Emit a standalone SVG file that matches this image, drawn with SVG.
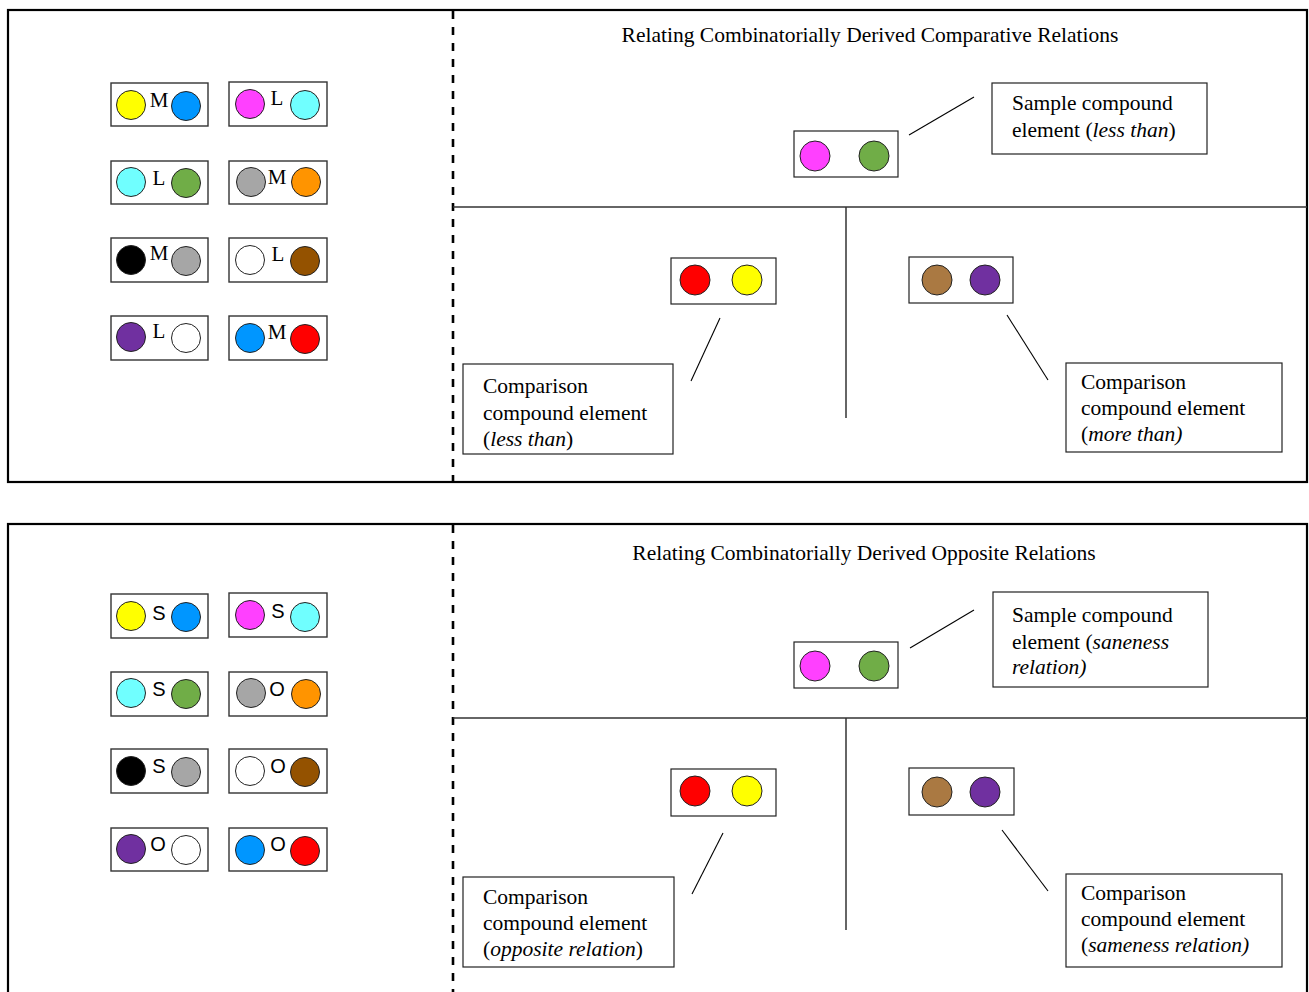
<svg xmlns="http://www.w3.org/2000/svg" width="1309" height="992" viewBox="0 0 1309 992">
<style>
.panel{fill:none;stroke:#000;stroke-width:2.2}
.dash{stroke:#000;stroke-width:2.6;stroke-dasharray:8,8}
.div{stroke:#333;stroke-width:1.5}
.sbox{fill:#fff;stroke:#333;stroke-width:1.4}
.box{fill:#fff;stroke:#222;stroke-width:1.2}
.c{stroke:#222;stroke-width:1}
.lead{stroke:#000;stroke-width:1.1}
.t{font-family:"Liberation Serif","Times New Roman",serif;font-size:21.5px;fill:#000}
.title{font-family:"Liberation Serif","Times New Roman",serif;font-size:21.5px;fill:#000;text-anchor:middle}
.ls{font-family:"Liberation Serif","Times New Roman",serif;font-size:21px;fill:#000;text-anchor:middle}
.la{font-family:"Liberation Sans",Arial,sans-serif;font-size:20px;fill:#000;text-anchor:middle}
.i{font-style:italic}
</style>
<rect width="1309" height="992" fill="#fff"/>

<g id="panel-top">
<rect class="panel" x="8" y="10" width="1299" height="472"/>
<line class="dash" x1="453" y1="11" x2="453" y2="481"/>
<line class="div" x1="453" y1="207" x2="1307" y2="207"/>
<line class="div" x1="846" y1="207" x2="846" y2="418"/>
<text class="title" x="870" y="42">Relating Combinatorially Derived Comparative Relations</text>
</g>

<g id="panel-bottom">
<rect class="panel" x="8" y="524" width="1299" height="480"/>
<line class="dash" x1="453" y1="525" x2="453" y2="992"/>
<line class="div" x1="453" y1="718" x2="1307" y2="718"/>
<line class="div" x1="846" y1="718" x2="846" y2="930"/>
<text class="title" x="864" y="560">Relating Combinatorially Derived Opposite Relations</text>
</g>

<!-- top left pairs -->
<g id="t-pair-1"><rect class="sbox" x="111" y="83" width="97" height="43"/><circle class="c" cx="131" cy="105" r="14.5" fill="#FFFF00"/><circle class="c" cx="186" cy="106" r="14.5" fill="#0096FF"/><text class="ls" x="159" y="107">M</text></g>
<g id="t-pair-2"><rect class="sbox" x="229" y="82" width="98" height="44"/><circle class="c" cx="250" cy="104" r="14.5" fill="#FF40FF"/><circle class="c" cx="305" cy="105" r="14.5" fill="#70FFFF"/><text class="ls" x="277" y="105">L</text></g>
<g id="t-pair-3"><rect class="sbox" x="111" y="161" width="97" height="43"/><circle class="c" cx="131" cy="182" r="14.5" fill="#70FFFF"/><circle class="c" cx="186" cy="183" r="14.5" fill="#70AD47"/><text class="ls" x="159" y="185">L</text></g>
<g id="t-pair-4"><rect class="sbox" x="229" y="161" width="98" height="43"/><circle class="c" cx="251" cy="182" r="14.5" fill="#A6A6A6"/><circle class="c" cx="306" cy="182" r="14.5" fill="#FF9400"/><text class="ls" x="277" y="184">M</text></g>
<g id="t-pair-5"><rect class="sbox" x="111" y="238" width="97" height="44"/><circle class="c" cx="131" cy="260" r="14.5" fill="#000000"/><circle class="c" cx="186" cy="261" r="14.5" fill="#A6A6A6"/><text class="ls" x="159" y="260">M</text></g>
<g id="t-pair-6"><rect class="sbox" x="229" y="238" width="98" height="44"/><circle class="c" cx="250" cy="260" r="14.5" fill="#FFFFFF"/><circle class="c" cx="305" cy="261" r="14.5" fill="#945200"/><text class="ls" x="278" y="261">L</text></g>
<g id="t-pair-7"><rect class="sbox" x="111" y="316" width="97" height="44"/><circle class="c" cx="131" cy="337" r="14.5" fill="#7030A0"/><circle class="c" cx="186" cy="338" r="14.5" fill="#FFFFFF"/><text class="ls" x="159" y="338">L</text></g>
<g id="t-pair-8"><rect class="sbox" x="229" y="316" width="98" height="44"/><circle class="c" cx="250" cy="338" r="14.5" fill="#0096FF"/><circle class="c" cx="305" cy="339" r="14.5" fill="#FF0000"/><text class="ls" x="277" y="339">M</text></g>

<!-- bottom left pairs -->
<g id="b-pair-1"><rect class="sbox" x="111" y="594" width="97" height="44"/><circle class="c" cx="131" cy="616" r="14.5" fill="#FFFF00"/><circle class="c" cx="186" cy="617" r="14.5" fill="#0096FF"/><text class="la" x="159" y="620">S</text></g>
<g id="b-pair-2"><rect class="sbox" x="229" y="593" width="98" height="44"/><circle class="c" cx="250" cy="615" r="14.5" fill="#FF40FF"/><circle class="c" cx="305" cy="617" r="14.5" fill="#70FFFF"/><text class="la" x="278" y="618">S</text></g>
<g id="b-pair-3"><rect class="sbox" x="111" y="672" width="97" height="44"/><circle class="c" cx="131" cy="693" r="14.5" fill="#70FFFF"/><circle class="c" cx="186" cy="694" r="14.5" fill="#70AD47"/><text class="la" x="159" y="696">S</text></g>
<g id="b-pair-4"><rect class="sbox" x="229" y="672" width="98" height="44"/><circle class="c" cx="251" cy="693" r="14.5" fill="#A6A6A6"/><circle class="c" cx="306" cy="694" r="14.5" fill="#FF9400"/><text class="la" x="277" y="696">O</text></g>
<g id="b-pair-5"><rect class="sbox" x="111" y="749" width="97" height="44"/><circle class="c" cx="131" cy="771" r="14.5" fill="#000000"/><circle class="c" cx="186" cy="772" r="14.5" fill="#A6A6A6"/><text class="la" x="159" y="773">S</text></g>
<g id="b-pair-6"><rect class="sbox" x="229" y="749" width="98" height="44"/><circle class="c" cx="250" cy="771" r="14.5" fill="#FFFFFF"/><circle class="c" cx="305" cy="772" r="14.5" fill="#945200"/><text class="la" x="278" y="773">O</text></g>
<g id="b-pair-7"><rect class="sbox" x="111" y="828" width="97" height="43"/><circle class="c" cx="131" cy="849" r="14.5" fill="#7030A0"/><circle class="c" cx="186" cy="850" r="14.5" fill="#FFFFFF"/><text class="la" x="158" y="851">O</text></g>
<g id="b-pair-8"><rect class="sbox" x="229" y="828" width="98" height="43"/><circle class="c" cx="250" cy="850" r="14.5" fill="#0096FF"/><circle class="c" cx="305" cy="851" r="14.5" fill="#FF0000"/><text class="la" x="278" y="851">O</text></g>

<!-- top right nodes -->
<g id="t-sample"><rect class="box" x="794" y="131" width="104" height="46"/><circle class="c" cx="815" cy="156" r="15" fill="#FF40FF"/><circle class="c" cx="874" cy="156" r="15" fill="#70AD47"/></g>
<g id="t-sample-label"><rect class="box" x="992" y="83" width="215" height="71"/><text class="t" x="1012" y="110">Sample compound</text><text class="t" x="1012" y="137">element (<tspan class="i">less than</tspan>)</text></g>
<g id="t-comp-left"><rect class="box" x="671" y="258" width="105" height="46"/><circle class="c" cx="695" cy="280" r="15" fill="#FF0000"/><circle class="c" cx="747" cy="280" r="15" fill="#FFFF00"/></g>
<g id="t-comp-left-label"><rect class="box" x="463" y="364" width="210" height="90"/><text class="t" x="483" y="393">Comparison</text><text class="t" x="483" y="420">compound element</text><text class="t" x="483" y="446">(<tspan class="i">less than</tspan>)</text></g>
<g id="t-comp-right"><rect class="box" x="909" y="257" width="104" height="46"/><circle class="c" cx="937" cy="280" r="15" fill="#AA7942"/><circle class="c" cx="985" cy="280" r="15" fill="#7030A0"/></g>
<g id="t-comp-right-label"><rect class="box" x="1066" y="363" width="216" height="89"/><text class="t" x="1081" y="389">Comparison</text><text class="t" x="1081" y="415">compound element</text><text class="t" x="1081" y="441">(<tspan class="i">more than)</tspan></text></g>

<!-- bottom right nodes -->
<g id="b-sample"><rect class="box" x="794" y="642" width="104" height="46"/><circle class="c" cx="815" cy="666" r="15" fill="#FF40FF"/><circle class="c" cx="874" cy="666" r="15" fill="#70AD47"/></g>
<g id="b-sample-label"><rect class="box" x="993" y="592" width="215" height="95"/><text class="t" x="1012" y="622">Sample compound</text><text class="t" x="1012" y="649">element (<tspan class="i">saneness</tspan></text><text class="t i" x="1012" y="674">relation)</text></g>
<g id="b-comp-left"><rect class="box" x="671" y="769" width="105" height="47"/><circle class="c" cx="695" cy="791" r="15" fill="#FF0000"/><circle class="c" cx="747" cy="791" r="15" fill="#FFFF00"/></g>
<g id="b-comp-left-label"><rect class="box" x="463" y="877" width="211" height="90"/><text class="t" x="483" y="904">Comparison</text><text class="t" x="483" y="930">compound element</text><text class="t" x="483" y="956">(<tspan class="i">opposite relation</tspan>)</text></g>
<g id="b-comp-right"><rect class="box" x="909" y="768" width="105" height="47"/><circle class="c" cx="937" cy="792" r="15" fill="#AA7942"/><circle class="c" cx="985" cy="792" r="15" fill="#7030A0"/></g>
<g id="b-comp-right-label"><rect class="box" x="1066" y="874" width="216" height="93"/><text class="t" x="1081" y="900">Comparison</text><text class="t" x="1081" y="926">compound element</text><text class="t" x="1081" y="952">(<tspan class="i">sameness relation)</tspan></text></g>

<g id="connectors">
<line class="lead" x1="909" y1="135" x2="974" y2="97"/>
<line class="lead" x1="720" y1="318" x2="691" y2="381"/>
<line class="lead" x1="1007" y1="315" x2="1048" y2="380"/>
<line class="lead" x1="910" y1="648" x2="974" y2="610"/>
<line class="lead" x1="723" y1="833" x2="692" y2="894"/>
<line class="lead" x1="1002" y1="830" x2="1048" y2="891"/>
</g>
</svg>
